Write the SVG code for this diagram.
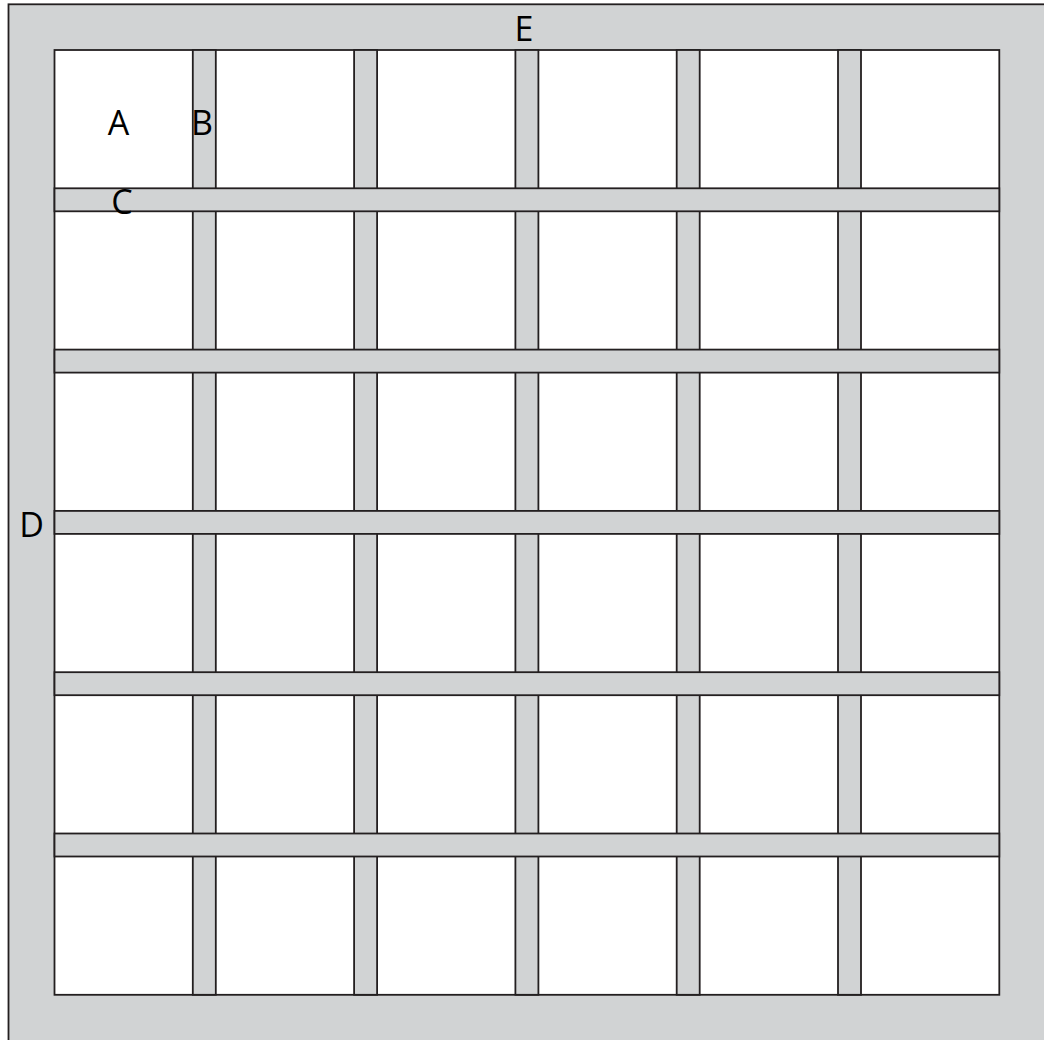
<svg xmlns="http://www.w3.org/2000/svg" width="1044" height="1040" viewBox="0 0 1044 1040">
<style>
.bar{fill:#d1d3d4;stroke:#231f20;stroke-width:1.8}
.cell{fill:#ffffff;stroke:#231f20;stroke-width:1.8}
.lbl{font-family:"Open Sans","Noto Sans",sans-serif;font-size:34px;fill:#000000}
</style>
<rect width="1044" height="1040" fill="#ffffff"/>
<g id="frame">
<rect class="bar" x="8.5" y="4.3" width="1100" height="1100"/>
<rect class="cell" x="54.5" y="50" width="944.8" height="944.8"/>
</g>
<g id="verticals">
<rect class="bar" x="192.8" y="50" width="23" height="944.8"/>
<rect class="bar" x="354.1" y="50" width="23" height="944.8"/>
<rect class="bar" x="515.4" y="50" width="23" height="944.8"/>
<rect class="bar" x="676.7" y="50" width="23" height="944.8"/>
<rect class="bar" x="838" y="50" width="23" height="944.8"/>
</g>
<g id="horizontals">
<rect class="bar" x="54.5" y="188.3" width="944.8" height="23"/>
<rect class="bar" x="54.5" y="349.6" width="944.8" height="23"/>
<rect class="bar" x="54.5" y="510.9" width="944.8" height="23"/>
<rect class="bar" x="54.5" y="672.2" width="944.8" height="23"/>
<rect class="bar" x="54.5" y="833.5" width="944.8" height="23"/>
</g>
<g id="labels">
<text class="lbl" x="118.5" y="134.5" text-anchor="middle">A</text>
<text class="lbl" x="202" y="134.5" text-anchor="middle">B</text>
<text class="lbl" x="122" y="213.5" text-anchor="middle">C</text>
<text class="lbl" x="31.5" y="537" text-anchor="middle">D</text>
<text class="lbl" x="524" y="41" text-anchor="middle">E</text>
</g>
</svg>
